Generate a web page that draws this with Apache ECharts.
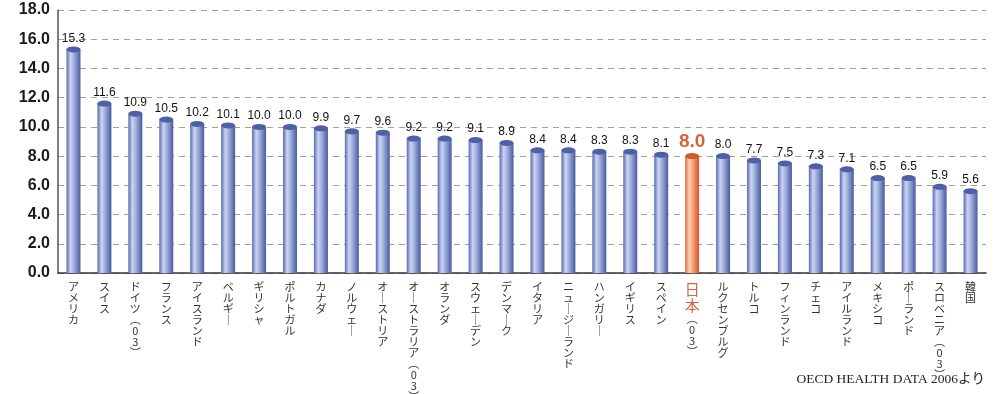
<!DOCTYPE html>
<html>
<head>
<meta charset="utf-8">
<script src="https://cdn.jsdelivr.net/npm/echarts@6/dist/echarts.min.js"></script>
<style>
    html, body { margin: 0; padding: 0; background: #fff; }
    #chart { width: 1004px; height: 394px; }
</style>
</head>
<body>
<div id="chart"></div>
<script>
    // 国別データ
    var countries = ['アメリカ', 'スイス', 'ドイツ(03)', 'フランス', 'アイスランド', 'ベルギー', 'ギリシャ', 'ポルトガル',
        'カナダ', 'ノルウェー', 'オーストリア', 'オーストラリア(03)', 'オランダ', 'スウェーデン', 'デンマーク', 'イタリア',
        'ニュージーランド', 'ハンガリー', 'イギリス', 'スペイン', '日本(03)', 'ルクセンブルグ', 'トルコ', 'フィンランド',
        'チェコ', 'アイルランド', 'メキシコ', 'ポーランド', 'スロベニア(03)', '韓国'];
    var values = [15.3, 11.6, 10.9, 10.5, 10.2, 10.1, 10.0, 10.0, 9.9, 9.7, 9.6, 9.2, 9.2, 9.1, 8.9, 8.4,
        8.4, 8.3, 8.3, 8.1, 8.0, 8.0, 7.7, 7.5, 7.3, 7.1, 6.5, 6.5, 5.9, 5.6];
    var highlight = '日本(03)';
    var yTicks = { min: 0, max: 18, interval: 2 };

    var blueBody = new echarts.graphic.LinearGradient(0, 0, 1, 0, [
        { offset: 0, color: '#5a6aae' },
        { offset: 0.3, color: '#cbd5f2' },
        { offset: 0.55, color: '#9eacdc' },
        { offset: 1, color: '#4a5a9c' }
    ]);
    var redBody = new echarts.graphic.LinearGradient(0, 0, 1, 0, [
        { offset: 0, color: '#e0693f' },
        { offset: 0.3, color: '#ffd3b6' },
        { offset: 0.55, color: '#f7a27c' },
        { offset: 1, color: '#d3552f' }
    ]);

    // 縦書き用に1文字ずつ改行
    function vertical(s) {
        return s.replace(/ー/g, '｜').replace(/\(/g, '︵').replace(/\)/g, '︶').split('').join('\n');
    }

    var chart = echarts.init(document.getElementById('chart'));
    chart.setOption({
        animation: false,
        grid: { left: 58, right: 18, top: 10, bottom: 121, containLabel: false, outerBoundsMode: 'none' },
        xAxis: {
            type: 'category',
            data: countries,
            axisTick: { show: false },
            axisLine: { lineStyle: { color: '#333', width: 1.5 } },
            axisLabel: {
                interval: 0,
                margin: 8,
                verticalAlign: 'top',
                color: '#333',
                fontFamily: 'Noto Sans CJK JP',
                fontSize: 11,
                lineHeight: 11,
                formatter: function (v) {
                    if (v === highlight) {
                        return '{j|' + vertical('日本') + '}\n{n|' + vertical('(03)') + '}';
                    }
                    return vertical(v);
                },
                rich: {
                    j: { color: '#d9623b', fontSize: 15, lineHeight: 16, fontFamily: 'Noto Sans CJK JP' },
                    n: { color: '#333', fontSize: 11, lineHeight: 11, fontFamily: 'Noto Sans CJK JP' }
                }
            }
        },
        yAxis: {
            type: 'value',
            min: yTicks.min,
            max: yTicks.max,
            interval: yTicks.interval,
            axisLine: { show: true, lineStyle: { color: '#555', width: 1.5 } },
            axisTick: { show: false },
            axisLabel: {
                margin: 8,
                color: '#1a1a1a',
                fontWeight: 'bold',
                fontSize: 16,
                fontFamily: 'Liberation Sans',
                formatter: function (v) { return v.toFixed(1); }
            },
            splitLine: { lineStyle: { color: '#a0a0a0', type: [6, 5], width: 1 } }
        },
        series: [
            {
                type: 'bar',
                barWidth: 14,
                z: 2,
                data: values.map(function (v, i) {
                    var isJp = countries[i] === highlight;
                    return {
                        value: v,
                        itemStyle: { color: isJp ? redBody : blueBody },
                        label: isJp ? { color: '#d9623b', fontSize: 19, fontWeight: 'bold', distance: 5 } : {}
                    };
                }),
                label: {
                    show: true,
                    position: 'top',
                    distance: 5,
                    color: '#111',
                    fontSize: 12,
                    fontFamily: 'Liberation Sans',
                    formatter: function (p) { return p.value.toFixed(1); }
                }
            },
            {
                type: 'pictorialBar',
                symbol: 'circle',
                symbolSize: [14, 6],
                symbolPosition: 'end',
                symbolOffset: [0, '-50%'],
                z: 3,
                silent: true,
                data: values.map(function (v, i) {
                    return {
                        value: v,
                        itemStyle: { color: countries[i] === highlight ? '#d4582f' : '#4d60a6' }
                    };
                })
            }
        ],
        graphic: [{
            type: 'text',
            right: 19,
            top: 373,
            style: {
                text: 'OECD HEALTH DATA 2006より',
                fill: '#222',
                font: '13.5px "Liberation Serif", "Noto Sans CJK JP", serif'
            }
        }]
    });
</script>
</body>
</html>
